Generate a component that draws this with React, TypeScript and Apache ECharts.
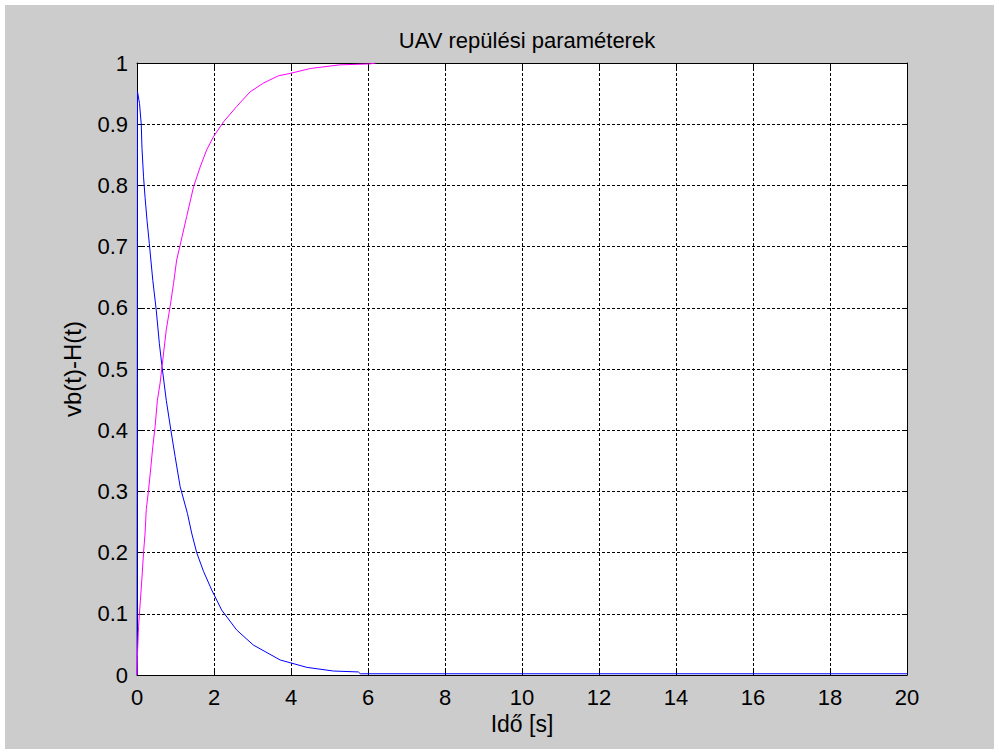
import React, { useEffect, useRef } from "react";
import * as echarts from "echarts";

// Time (s) and values
const blueT = [0, 0.013, 0.065, 0.11, 0.13, 0.17, 0.21, 0.26, 0.32, 0.41, 0.5, 0.58, 0.65, 0.76, 0.88, 0.99, 1.12, 1.31, 1.42, 1.55, 1.73, 1.94, 2.2, 2.59, 3.02, 3.72, 3.98, 4.41, 5.1, 5.75, 5.8, 20];
const blueV = [0, 0.953, 0.934, 0.9, 0.86, 0.814, 0.78, 0.743, 0.705, 0.645, 0.596, 0.542, 0.504, 0.449, 0.4, 0.357, 0.308, 0.264, 0.232, 0.2, 0.169, 0.139, 0.106, 0.0735, 0.049, 0.0245, 0.02, 0.0125, 0.0065, 0.005, 0.002, 0.002];

const magT = [0, 0.01, 0.04, 0.13, 0.17, 0.21, 0.24, 0.3, 0.36, 0.41, 0.47, 0.53, 0.6, 0.65, 0.76, 0.86, 0.95, 1.03, 1.17, 1.29, 1.47, 1.64, 1.81, 1.99, 2.25, 2.59, 2.94, 3.28, 3.67, 3.98, 4.5, 5.27, 6.05, 6.2];
const magV = [0, 0.03, 0.079, 0.16, 0.2, 0.232, 0.27, 0.302, 0.34, 0.373, 0.406, 0.449, 0.477, 0.504, 0.564, 0.602, 0.64, 0.678, 0.716, 0.749, 0.798, 0.83, 0.858, 0.88, 0.904, 0.929, 0.953, 0.967, 0.979, 0.983, 0.991, 0.997, 0.9985, 1.0];

const titleText = "UAV repülési paraméterek";
const xName = "Idő [s]";
const yName = "vb(t)-H(t)";

export default function App() {
  const ref = useRef<HTMLDivElement>(null);
  useEffect(() => {
    if (!ref.current) return;
    const chart = echarts.init(ref.current, undefined, { renderer: "svg" });
    const font = "Liberation Sans, Arial, sans-serif";
    const grid = { left: 137, right: 92, top: 63, bottom: 79 };
    const plotCenterX = grid.left + (999 - grid.left - grid.right) / 2;
    const gridLine = { show: true, lineStyle: { color: "#000", type: [3, 2] as any, width: 1 } };
    chart.setOption({
      animation: false,
      backgroundColor: "#ffffff",
      graphic: [
        { type: "rect", z: -10, shape: { x: 5, y: 5, width: 989, height: 744 }, style: { fill: "#cccccc" } },
        { type: "rect", z: -5, shape: { x: grid.left, y: grid.top, width: 999 - grid.left - grid.right, height: 754 - grid.top - grid.bottom }, style: { fill: "#ffffff" } },
      ],
      title: {
        text: titleText,
        left: plotCenterX,
        textAlign: "center",
        top: 24,
        textStyle: { fontFamily: font, fontSize: 22, fontWeight: "normal", color: "#000" },
      },
      grid: { ...grid, show: false },
      xAxis: [
        {
          type: "value",
          min: 0,
          max: 20,
          interval: 2,
          name: xName,
          nameLocation: "middle",
          nameGap: 34,
          nameTextStyle: { fontFamily: font, fontSize: 23, color: "#000" },
          axisLine: { show: true, onZero: false, lineStyle: { color: "#000", width: 1 } },
          axisTick: { show: true, inside: true, length: 5, lineStyle: { color: "#000" } },
          axisLabel: { fontFamily: font, fontSize: 22, color: "#000", margin: 11 },
          splitLine: gridLine,
        },
        {
          type: "value",
          position: "top",
          min: 0,
          max: 20,
          interval: 2,
          axisLine: { show: true, onZero: false, lineStyle: { color: "#000", width: 1 } },
          axisTick: { show: true, inside: true, length: 5, lineStyle: { color: "#000" } },
          axisLabel: { show: false },
          splitLine: { show: false },
        },
      ],
      yAxis: [
        {
          type: "value",
          min: 0,
          max: 1,
          interval: 0.1,
          name: yName,
          nameLocation: "middle",
          nameGap: 53,
          nameTextStyle: { fontFamily: font, fontSize: 24, color: "#000" },
          axisLine: { show: true, onZero: false, lineStyle: { color: "#000", width: 1 } },
          axisTick: { show: true, inside: true, length: 5, lineStyle: { color: "#000" } },
          axisLabel: { fontFamily: font, fontSize: 22, color: "#000", margin: 9 },
          splitLine: gridLine,
        },
        {
          type: "value",
          position: "right",
          min: 0,
          max: 1,
          interval: 0.1,
          axisLine: { show: true, onZero: false, lineStyle: { color: "#000", width: 1 } },
          axisTick: { show: true, inside: true, length: 5, lineStyle: { color: "#000" } },
          axisLabel: { show: false },
          splitLine: { show: false },
        },
      ],
      series: [
        {
          type: "line",
          xAxisIndex: 0,
          yAxisIndex: 0,
          data: blueT.map((t, i) => [t, blueV[i]]),
          showSymbol: false,
          lineStyle: { color: "#0000ff", width: 1 },
          itemStyle: { color: "#0000ff" },
          z: 3,
        },
        {
          type: "line",
          xAxisIndex: 0,
          yAxisIndex: 0,
          data: magT.map((t, i) => [t, magV[i]]),
          showSymbol: false,
          lineStyle: { color: "#ff00ff", width: 1 },
          itemStyle: { color: "#ff00ff" },
          z: 4,
        },
      ],
    });
    return () => chart.dispose();
  }, []);
  return <div ref={ref} style={{ position: "fixed", left: 0, top: 0, width: 999, height: 754 }} />;
}
